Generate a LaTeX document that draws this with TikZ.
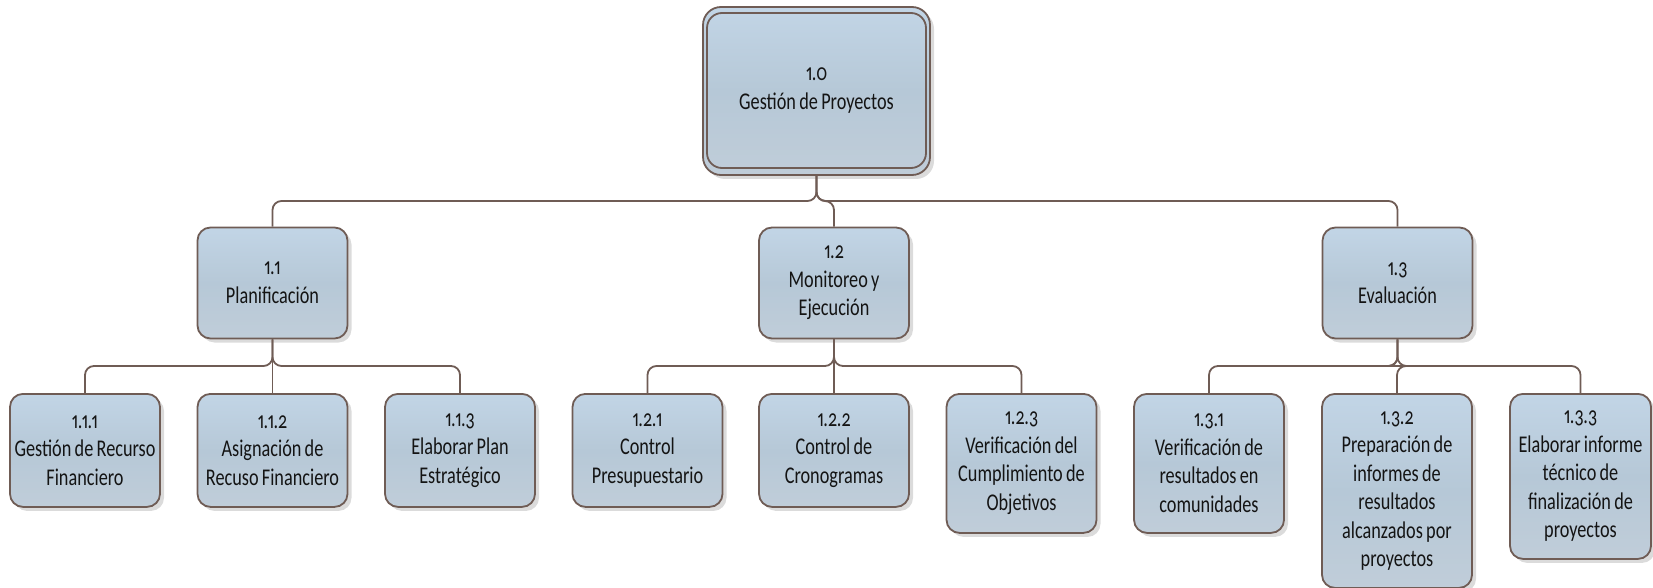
\documentclass[tikz,border=0pt]{standalone}
\usepackage{fontspec}
\setmainfont{Carlito}[Numbers={OldStyle,Proportional}, FakeStretch=0.76, WordSpace=0.8]
\usetikzlibrary{shadows}

\definecolor{edgecol}{HTML}{6F5C55}
\definecolor{fillmid}{HTML}{B6C8D7}
\definecolor{filltop}{HTML}{C2D5E6}
\definecolor{fillbot}{HTML}{C0CDD9}
\definecolor{inkcol}{HTML}{141414}

\tikzset{
  wbs/.style={
    rounded corners=13pt, draw=edgecol, line width=1.8pt,
    top color=filltop, bottom color=fillbot, middle color=fillmid,
    drop shadow={shadow xshift=4pt, shadow yshift=-4pt, opacity=0.2, fill=black!70},
    align=center, inner sep=0pt, minimum width=150pt,
    text=inkcol, font=\fontsize{24}{28.5}\selectfont},
  link/.style={draw=edgecol, line width=1.8pt, rounded corners=9pt},
}

\begin{document}
\begin{tikzpicture}[x=1pt, y=-1pt]
\useasboundingbox (0,0) rectangle (1653,588);

% root: double rounded frame
\node[wbs, rounded corners=18pt, minimum width=227pt, minimum height=168pt] (rootframe) at (816.5,91) {};
\node[draw=edgecol, line width=1.8pt, rounded corners=15pt, minimum width=219pt, minimum height=155pt,
      align=center, text=inkcol, font=\fontsize{24}{28.5}\selectfont] (root) at (816.5,90.5) {1.0\\Gestión de Proyectos};

% second level
\node[wbs, minimum height=111pt] (p1) at (272.5,283) {1.1\\Planificación};
\node[wbs, minimum height=111pt] (p2) at (834,283) {1.2\\Monitoreo y\\Ejecución};
\node[wbs, minimum height=111pt] (p3) at (1397.5,283) {1.3\\Evaluación};

% third level
\node[wbs, minimum height=113pt, anchor=north] (a1) at (85,393) {1.1.1\\Gestión de Recurso\\Financiero};
\node[wbs, minimum height=113pt, anchor=north] (a2) at (272.5,393) {1.1.2\\Asignación de\\Recuso Financiero};
\node[wbs, minimum height=113pt, anchor=north] (a3) at (460,393) {1.1.3\\Elaborar Plan\\Estratégico};
\node[wbs, minimum height=113pt, anchor=north] (b1) at (647.5,393) {1.2.1\\Control\\Presupuestario};
\node[wbs, minimum height=113pt, anchor=north] (b2) at (834,393) {1.2.2\\Control de\\Cronogramas};
\node[wbs, minimum height=139pt, anchor=north] (b3) at (1021.5,393) {1.2.3\\Verificación del\\Cumplimiento de\\Objetivos};
\node[wbs, minimum height=139pt, anchor=north] (c1) at (1209,393) {1.3.1\\Verificación de\\resultados en\\comunidades};
\node[wbs, minimum height=194pt, anchor=north] (c2) at (1397,393) {1.3.2\\Preparación de\\informes de\\resultados\\alcanzados por\\proyectos};
\node[wbs, minimum height=165pt, minimum width=141pt, anchor=north] (c3) at (1580.5,393) {1.3.3\\Elaborar informe\\técnico de\\finalización de\\proyectos};

% connectors
\foreach \kid in {p1,p2,p3}
  \draw[link] (rootframe.south) -- (rootframe.south |- 0,201) -- (\kid.north |- 0,201) -- (\kid.north);
\foreach \up/\kids in {p1/{a1,a2,a3}, p2/{b1,b2,b3}, p3/{c1,c2,c3}}
  \foreach \kid in \kids
    \draw[link] (\up.south) -- (\up.south |- 0,366) -- (\kid.north |- 0,366) -- (\kid.north);
\end{tikzpicture}
\end{document}
